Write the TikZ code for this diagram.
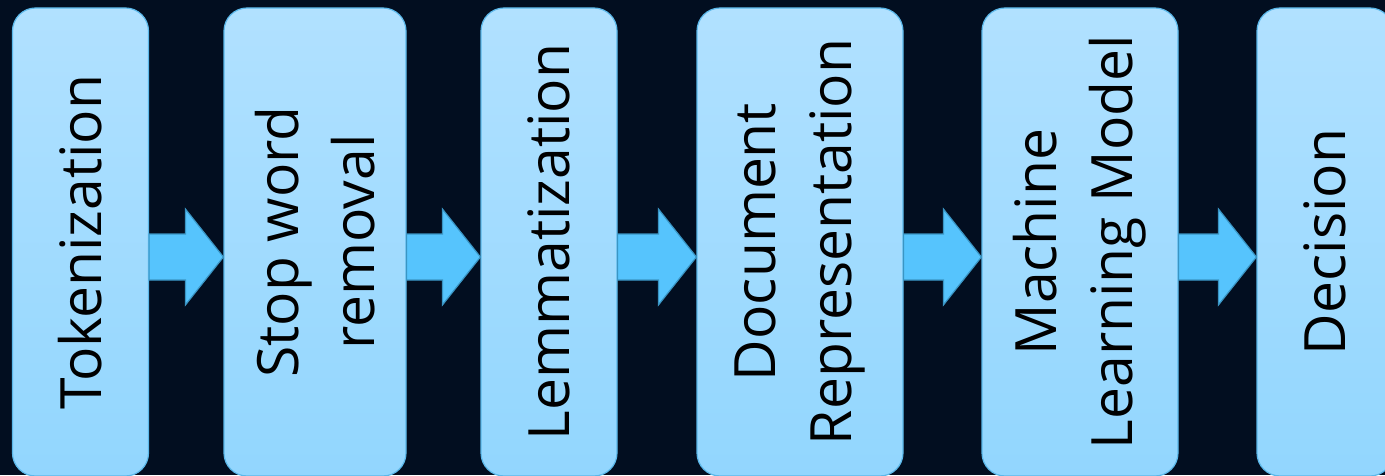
\documentclass[tikz,border=0pt]{standalone}
\usepackage{fontspec}
\setmainfont{Open Sans}
\usetikzlibrary{calc}

\definecolor{pagebg}{HTML}{020E20}
\definecolor{boxtop}{HTML}{B1E1FF}
\definecolor{boxbottom}{HTML}{92D6FE}
\definecolor{boxedge}{HTML}{5BB8EA}
\definecolor{arrowfill}{HTML}{56C4FD}
\definecolor{arrowedge}{HTML}{3A95C4}

\tikzset{
  stepbox/.style={rectangle, rounded corners=23pt, draw=boxedge, line width=1.2pt,
    top color=boxtop, bottom color=boxbottom, minimum height=468pt, inner sep=0pt},
  steplabel/.style={rotate=90, align=center, text=black, inner sep=0pt,
    font=\fontsize{57}{76}\selectfont},
  flow/.style={fill=arrowfill, draw=arrowedge, line width=1.2pt, line join=miter}
}

% block arrow from the right side of #1 to the left side of #2
\newcommand\flowarrow[2]{%
  \draw[flow] let \p1=(#1.east), \p2=(#2.west) in
    (\x1,\y1-15+23) -- (\x2-38,\y1-15+23) -- (\x2-38,\y1-15+48) -- (\x2,\y1-15)
    -- (\x2-38,\y1-15-48) -- (\x2-38,\y1-15-23) -- (\x1,\y1-15-23) -- cycle;}

\begin{document}
\begin{tikzpicture}[x=1pt,y=1pt]
  \fill[pagebg] (0,0) rectangle (1385,475);
  \useasboundingbox (0,0) rectangle (1385,475);
  \clip (0,0) rectangle (1385,475);

  % processing stages
  \node[stepbox, minimum width=136pt] (b1) at (80.5,233) {};
  \node[stepbox, minimum width=182pt] (b2) at (315,233) {};
  \node[stepbox, minimum width=136pt] (b3) at (549,233) {};
  \node[stepbox, minimum width=206pt] (b4) at (800,233) {};
  \node[stepbox, minimum width=196pt] (b5) at (1080,233) {};
  \node[stepbox, minimum width=136pt] (b6) at (1325,233) {};

  \node[steplabel] (t1) at (b1) {Tokenization};
  \node[steplabel] (t2) at (b2) {Stop word\\removal};
  \node[steplabel] (t3) at (b3) {Lemmatization};
  \node[steplabel] (t4) at (b4) {Document\\Representation};
  \node[steplabel] (t5) at (b5) {Machine\\Learning Model};
  \node[steplabel] (t6) at (b6) {Decision};

  % connectors
  \flowarrow{b1}{b2}
  \flowarrow{b2}{b3}
  \flowarrow{b3}{b4}
  \flowarrow{b4}{b5}
  \flowarrow{b5}{b6}
\end{tikzpicture}
\end{document}
